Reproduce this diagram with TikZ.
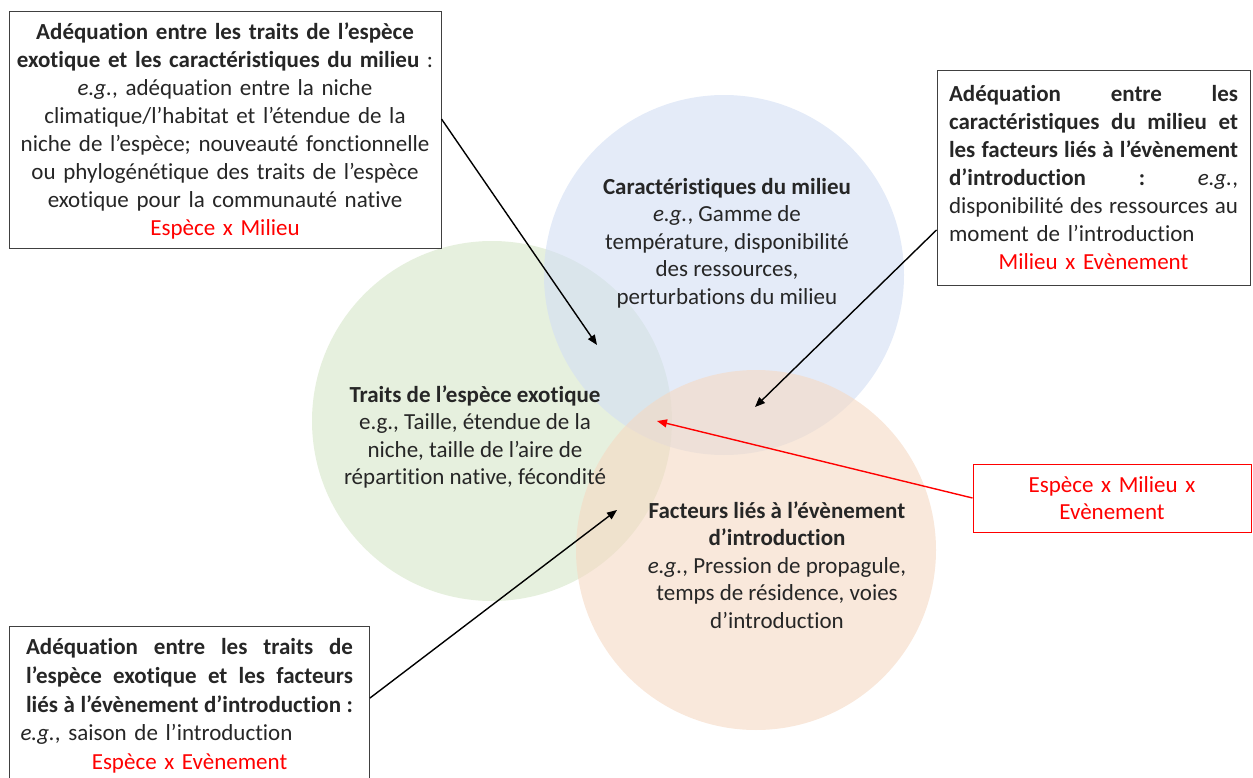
\documentclass[tikz,border=0pt]{standalone}
\usepackage{fontspec}
\setmainfont{Carlito}[Ligatures=NoCommon]
\usetikzlibrary{arrows.meta}
\definecolor{milieufill}{HTML}{D2DEF4}
\definecolor{especefill}{HTML}{D6E6C8}
\definecolor{eventfill}{HTML}{F5D9C3}
\hyphenpenalty=10000
\exhyphenpenalty=10000
\newcommand{\jline}[2][\linewidth]{\leavevmode\hbox to #1{\spaceskip=0.22em plus 1fil\relax #2}}
\newcommand{\lline}[2][\linewidth]{\makebox[#1][l]{#2}}

\begin{document}
\begin{tikzpicture}[x=1pt,y=-1pt,
  every node/.style={font=\fontsize{23}{28}\selectfont, text=black!85},
  venn/.style={circle, minimum size=360pt, inner sep=0pt, fill opacity=0.6, draw=none},
  venntext/.style={align=center, font=\fontsize{23}{27.5}\selectfont},
  box/.style={draw=black!75, line width=1pt, fill=white, inner xsep=11pt, inner ysep=0pt, align=center},
  combobox/.style={box, draw=red, text=red},
  link/.style={-{Triangle[length=10pt,width=8pt]}, line width=1.4pt},
  combolink/.style={link, draw=red}]
  \useasboundingbox (0,0) rectangle (1253,778);

  \node[venn, fill=especefill] (espece) at (492,421) {};
  \node[venn, fill=milieufill] (milieu) at (724,275) {};
  \node[venn, fill=eventfill] (event) at (756,550) {};

  \node[venntext] (milieutext) at (727,243) {%
    \textbf{Caractéristiques du milieu}\\
    \textit{e.g.}, Gamme de\\
    température, disponibilité\\
    des ressources,\\
    perturbations du milieu};
  \node[venntext] (especetext) at (475,437) {%
    \textbf{Traits de l’espèce exotique}\\
    e.g., Taille, étendue de la\\
    niche, taille de l’aire de\\
    répartition native, fécondité};
  \node[venntext] (eventtext) at (777,565) {%
    \textbf{Facteurs liés à l’évènement}\\
    \textbf{d’introduction}\\
    \textit{e.g.}, Pression de propagule,\\
    temps de résidence, voies\\
    d’introduction};

  \node[box, inner xsep=2pt, text width=428pt, minimum width=432pt, minimum height=237pt] (boxEM) at (225,130.5) {%
    \textbf{Adéquation entre les traits de l’espèce}\\
    \textbf{exotique et les caractéristiques du milieu} :\\
    \textit{e.g.}, adéquation entre la niche\\
    climatique/l’habitat et l’étendue de la\\
    niche de l’espèce; nouveauté fonctionnelle\\
    ou phylogénétique des traits de l’espèce\\
    exotique pour la communauté native\\
    \textcolor{red}{Espèce x Milieu}};
  \node[box, text width=289pt, minimum width=313pt, minimum height=214pt] (boxME) at (1093.5,178) {%
    \jline{\textbf{Adéquation entre les}}\\
    \jline{\textbf{caractéristiques du milieu et}}\\
    \jline{\textbf{les facteurs liés à l’évènement}}\\
    \jline{\textbf{d’introduction}\hfill\textbf{:}\hfill\textit{e.g.},}\\
    \jline{disponibilité des ressources au}\\
    \lline{moment de l’introduction}\\
    \textcolor{red}{Milieu x Evènement}};
  \node[box, anchor=north west, text width=338pt, minimum width=360pt, inner ysep=12pt,
    font=\fontsize{23}{28.7}\selectfont] (boxEE) at (9,626) {%
    \jline[327pt]{\textbf{Adéquation entre les traits de}}\\
    \jline[327pt]{\textbf{l’espèce exotique et les facteurs}}\\
    \jline[327pt]{\textbf{liés à l’évènement d’introduction :}}\\
    \lline{\textit{e.g.}, saison de l’introduction}\\
    \textcolor{red}{Espèce x Evènement}\\[8pt]};
  \node[combobox, text width=256pt, minimum width=278pt, minimum height=68pt,
    font=\fontsize{23}{27}\selectfont] (boxEME) at (1112,498) {%
    Espèce x Milieu x\\
    Evènement};

  \coordinate (tipEM) at (597,345);
  \coordinate (tipME) at (755,407);
  \coordinate (tipEE) at (617,510);
  \coordinate (tipEME) at (657,421);

  \draw[link] ([yshift=11.5pt]boxEM.east) -- (tipEM);
  \draw[link] ([yshift=-52pt]boxME.west) -- (tipME);
  \draw[link] ([yshift=-72pt]boxEE.north east) -- (tipEE);
  \draw[combolink] (boxEME.west) -- (tipEME);
\end{tikzpicture}
\end{document}
